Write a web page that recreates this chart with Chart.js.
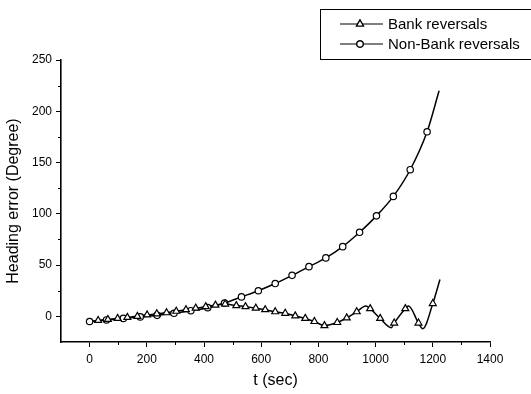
<!DOCTYPE html>
<html>
<head>
<meta charset="utf-8">
<script src="https://cdn.jsdelivr.net/npm/chart.js@4"></script>
<style>
  html, body { margin: 0; padding: 0; background: #fff; }
</style>
</head>
<body>
<canvas id="myChart" width="531" height="394"></canvas>
<script>
const seriesNames = ["Bank reversals", "Non-Bank reversals"];
const xTicks = [0, 200, 400, 600, 800, 1000, 1200, 1400];
const yTicks = [0, 50, 100, 150, 200, 250];

// marked points (triangles)
const bankT = [30, 64, 98, 132, 167, 201, 235, 269, 303, 337, 371, 406, 440, 474,
  513, 545, 581, 614, 649, 684, 719, 754, 786, 821, 866, 899, 934, 981, 1016, 1065, 1104, 1150, 1200];
const bankY = [-4, -3, -2, -1, 0, 1.5, 2.5, 3.5, 5, 6.5, 8, 9.5, 11, 12,
  10.5, 9.5, 8, 6.5, 4.5, 3, 0.5, -2, -5, -9, -6, -1.5, 4.5, 7.5, -2, -6.5, 7.5, -6.5, 12.5];
// extra curve points between markers (peaks, troughs, ends)
const bankCurveT = [0, 966, 1055, 1115, 1165, 1225];
const bankCurveY = [-5, 10, -11, 10, -12, 36];

// marked points (circles)
const nonBankT = [0, 59, 118, 177, 236, 295, 354, 413, 472, 531, 590, 649, 708, 767, 826, 885, 944, 1003, 1062, 1121, 1180];
const nonBankY = [-5, -3.5, -2, -0.5, 1, 3, 5.5, 8.5, 13, 19, 25, 32, 40, 48.5, 57, 68, 82, 98, 117, 143, 180];
const nonBankCurveT = [1222];
const nonBankCurveY = [220];

const FONT = "'Liberation Sans', Arial, Helvetica, sans-serif";

const toPoints = (ts, ys) => ts.map((t, i) => ({ x: t, y: ys[i] }));
const curve = (ts, ys, ts2, ys2) =>
  toPoints(ts, ys).concat(toPoints(ts2, ys2)).sort((a, b) => a.x - b.x);

const minorTicks = {
  id: "minorTicks",
  afterDraw(chart) {
    const { ctx, chartArea } = chart;
    const x = chart.scales.x, y = chart.scales.y;
    ctx.save();
    ctx.strokeStyle = "#000";
    ctx.lineWidth = 1;
    ctx.beginPath();
    for (let i = 0; i < xTicks.length - 1; i++) {
      const px = Math.round(x.getPixelForValue((xTicks[i] + xTicks[i + 1]) / 2)) + 0.5;
      ctx.moveTo(px, chartArea.bottom);
      ctx.lineTo(px, chartArea.bottom + 3);
    }
    for (let i = 0; i < yTicks.length - 1; i++) {
      const py = Math.round(y.getPixelForValue((yTicks[i] + yTicks[i + 1]) / 2)) + 0.5;
      ctx.moveTo(chartArea.left, py);
      ctx.lineTo(chartArea.left - 3, py);
    }
    ctx.stroke();
    ctx.restore();
  }
};

const boxLegend = {
  id: "boxLegend",
  afterDraw(chart) {
    const ctx = chart.ctx;
    ctx.save();
    ctx.strokeStyle = "#000";
    ctx.lineWidth = 1;
    ctx.strokeRect(320.5, 9.5, 230, 50);
    const styles = ["triangle", "circle"];
    const rows = [24, 44];
    rows.forEach((ry, i) => {
      ctx.beginPath();
      ctx.lineWidth = 1.2;
      ctx.moveTo(340, ry);
      ctx.lineTo(383, ry);
      ctx.stroke();
      ctx.fillStyle = "#fff";
      Chart.helpers.drawPoint(ctx, { pointStyle: styles[i], radius: i ? 3.2 : 4, borderWidth: 1.2 }, 360, ry);
      ctx.fill();
      ctx.stroke();
      ctx.fillStyle = "#000";
      ctx.font = "15px " + FONT;
      ctx.textBaseline = "middle";
      ctx.fillText(seriesNames[i], 388, ry + 1);
    });
    ctx.restore();
  }
};

const ctx = document.getElementById("myChart").getContext("2d");
new Chart(ctx, {
  type: "scatter",
  data: {
    datasets: [
      {
        label: seriesNames[0] + " markers",
        data: toPoints(bankT, bankY),
        showLine: false,
        pointStyle: "triangle",
        pointRadius: 4,
        pointBorderWidth: 1.2,
        pointBackgroundColor: "#fff",
        pointBorderColor: "#000",
        order: 1
      },
      {
        label: seriesNames[1] + " markers",
        data: toPoints(nonBankT, nonBankY),
        showLine: false,
        pointStyle: "circle",
        pointRadius: 3.2,
        pointBorderWidth: 1.2,
        pointBackgroundColor: "#fff",
        pointBorderColor: "#000",
        order: 1
      },
      {
        label: seriesNames[0],
        data: curve(bankT, bankY, bankCurveT, bankCurveY),
        showLine: true,
        pointRadius: 0,
        borderColor: "#000",
        borderWidth: 1.5,
        cubicInterpolationMode: "monotone",
        order: 2
      },
      {
        label: seriesNames[1],
        data: curve(nonBankT, nonBankY, nonBankCurveT, nonBankCurveY),
        showLine: true,
        pointRadius: 0,
        borderColor: "#000",
        borderWidth: 1.5,
        cubicInterpolationMode: "monotone",
        order: 2
      }
    ]
  },
  options: {
    responsive: false,
    animation: false,
    devicePixelRatio: 1,
    layout: { padding: { top: 60, right: 41, left: 0, bottom: 0 } },
    plugins: {
      legend: { display: false },
      tooltip: { enabled: false }
    },
    scales: {
      x: {
        type: "linear",
        min: -100,
        max: 1400,
        afterFit: (s) => { s.height = 52; },
        afterBuildTicks: (s) => { s.ticks = xTicks.map((v) => ({ value: v })); },
        border: { color: "#000", width: 1.6 },
        grid: { drawOnChartArea: false, drawTicks: true, tickLength: 5, color: "#000", lineWidth: 1 },
        ticks: { color: "#000", font: { family: FONT, size: 12 }, padding: 5, maxRotation: 0, autoSkip: false,
          callback: (v) => String(v) },
        title: { display: true, text: "t (sec)", color: "#000", font: { family: FONT, size: 16 } }
      },
      y: {
        type: "linear",
        min: -25,
        max: 250,
        afterFit: (s) => { s.width = 61; },
        afterBuildTicks: (s) => { s.ticks = yTicks.map((v) => ({ value: v })); },
        border: { color: "#000", width: 1.6 },
        grid: { drawOnChartArea: false, drawTicks: true, tickLength: 5, color: "#000", lineWidth: 1 },
        ticks: { color: "#000", font: { family: FONT, size: 12 }, padding: 4, autoSkip: false,
          callback: (v) => String(v) },
        title: { display: true, text: "Heading error (Degree)", color: "#000", font: { family: FONT, size: 16 } }
      }
    }
  },
  plugins: [minorTicks, boxLegend]
});
</script>
</body>
</html>
